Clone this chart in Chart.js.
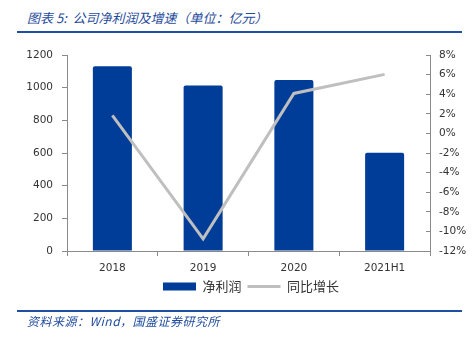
<!DOCTYPE html>
<html>
<head>
<meta charset="utf-8">
<script src="https://cdn.jsdelivr.net/npm/chart.js@4/dist/chart.umd.min.js"></script>
<style>
  html,body{margin:0;padding:0;background:#fff;}
  #wrap{position:relative;width:473px;height:343px;overflow:hidden;}
  #title{position:absolute;left:27px;top:8px;font:italic 13px "Noto Sans CJK SC",sans-serif;color:#1f4b9c;white-space:nowrap;letter-spacing:0px;}
  #hr1{position:absolute;left:17px;top:31px;width:445px;height:2px;background:#1f4fa3;}
  #hr2{position:absolute;left:17px;top:310px;width:445px;height:2px;background:#1f4fa3;}
  #foot{position:absolute;left:27px;top:312px;font:italic 12px "Noto Sans CJK SC",sans-serif;color:#1f4b9c;white-space:nowrap;letter-spacing:0.5px;}
  #cv{position:absolute;left:0;top:0;}
</style>
</head>
<body>
<div id="wrap">
  <div id="title">图表 5:&nbsp; 公司净利润及增速（单位：亿元）</div>
  <div id="hr1"></div>
  <canvas id="cv" width="473" height="343"></canvas>
  <div id="hr2"></div>
  <div id="foot">资料来源：Wind，国盛证券研究所</div>
</div>
<script>
const categories = ['2018', '2019', '2020', '2021H1'];
const netProfit = [1131, 1013, 1047, 601];
const yoyGrowth = [1.84, -10.76, 4.08, 6.02];
const leftTicks = [0, 200, 400, 600, 800, 1000, 1200];
const rightTicks = [-12, -10, -8, -6, -4, -2, 0, 2, 4, 6, 8];
const seriesNames = ['净利润', '同比增长'];

const axisColor = '#8a8a8a';
const tickFont = {family: '"DejaVu Sans", sans-serif', size: 10.5};

new Chart(document.getElementById('cv'), {
  data: {
    labels: categories,
    datasets: [
      {
        type: 'bar', label: seriesNames[0], data: netProfit, yAxisID: 'y',
        backgroundColor: '#003d98', borderRadius: 2, borderSkipped: 'bottom',
        categoryPercentage: 1, barPercentage: 0.43, order: 1, pointStyle: 'rect'
      },
      {
        type: 'line', label: seriesNames[1], data: yoyGrowth, yAxisID: 'y1',
        borderColor: '#bfbfbf', backgroundColor: '#bfbfbf', borderWidth: 3,
        pointRadius: 0, tension: 0, order: 0, pointStyle: 'line'
      }
    ]
  },
  options: {
    responsive: false,
    animation: false,
    devicePixelRatio: 1,
    layout: {padding: {top: 55, left: 0, right: -29, bottom: 40}},
    plugins: {
      legend: {
        position: 'bottom',
        labels: {
          usePointStyle: true, pointStyleWidth: 33, boxHeight: 8, padding: 6,
          sort: (a, b) => a.datasetIndex - b.datasetIndex,
          color: '#333', font: {family: '"Noto Sans CJK SC", sans-serif', size: 13}
        }
      },
      tooltip: {enabled: false}
    },
    scales: {
      x: {
        grid: {display: true, drawOnChartArea: false, offset: true, tickLength: 5, color: axisColor},
        border: {display: true, color: axisColor, width: 1},
        ticks: {color: '#333', font: tickFont, padding: 6},
        afterFit: s => { s.height = 23; }
      },
      y: {
        position: 'left', min: 0, max: 1200,
        afterBuildTicks: s => { s.ticks = leftTicks.map(v => ({value: v})); },
        grid: {drawOnChartArea: false, tickLength: 5, color: axisColor},
        border: {display: true, color: axisColor, width: 1},
        ticks: {color: '#333', font: tickFont, padding: 9, callback: v => String(v)},
        afterFit: s => { s.width = 67; }
      },
      y1: {
        position: 'right', min: -12, max: 8,
        afterBuildTicks: s => { s.ticks = rightTicks.map(v => ({value: v})); },
        grid: {drawOnChartArea: false, tickLength: -4, color: axisColor},
        border: {display: true, color: axisColor, width: 1},
        ticks: {color: '#333', font: tickFont, padding: 13, callback: v => v + '%'},
        afterFit: s => { s.width = 72; }
      }
    }
  }
});
</script>
</body>
</html>
